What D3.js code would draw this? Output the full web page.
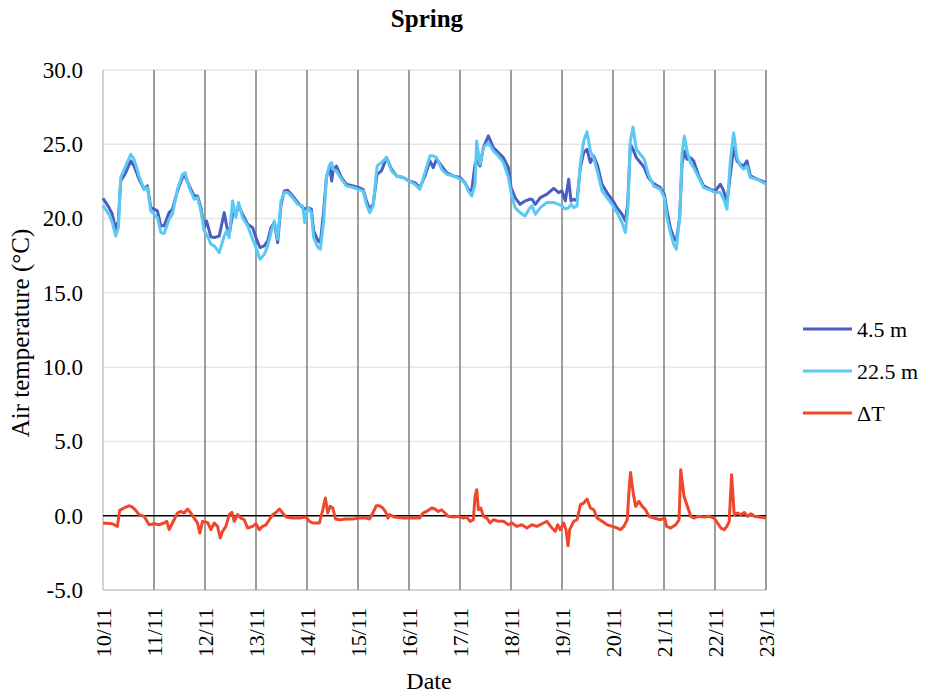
<!DOCTYPE html>
<html>
<head>
<meta charset="utf-8">
<script src="https://d3js.org/d3.v7.min.js"></script>
<style>
  body { margin: 0; background: #fff; }
  text { font-family: "Liberation Serif", "Times New Roman", serif; fill: #000; }
</style>
</head>
<body>
<script>
// dates on x axis (day 0 = 10/11)
var dayLabels = ['10/11','11/11','12/11','13/11','14/11','15/11','16/11','17/11','18/11','19/11','20/11','21/11','22/11','23/11'];
var yTicks = [-5, 0, 5, 10, 15, 20, 25, 30];

// time in days since 10/11 for both temperature series
var tTemp = [0, 0.118, 0.183, 0.249, 0.301, 0.347, 0.445, 0.544, 0.609, 0.707, 0.806, 0.871, 0.936,
  1.002, 1.067, 1.133, 1.198, 1.297, 1.362, 1.46, 1.559, 1.611, 1.69, 1.788, 1.853, 1.919, 1.984,
  2.03, 2.115, 2.181, 2.279, 2.377, 2.423, 2.475, 2.541, 2.606, 2.659, 2.737, 2.836, 2.934, 2.999,
  3.078, 3.163, 3.229, 3.294, 3.36, 3.425, 3.491, 3.556, 3.621, 3.72, 3.818, 3.916, 3.954,
  4.02, 4.085, 4.131, 4.216, 4.262, 4.327, 4.38, 4.445, 4.484, 4.511, 4.576, 4.675, 4.773, 4.904,
  5.002, 5.1, 5.166, 5.231, 5.297, 5.375, 5.46, 5.559, 5.657, 5.755, 5.886, 5.997,
  6.115, 6.214, 6.312, 6.41, 6.475, 6.541, 6.639, 6.737, 6.868, 6.999,
  7.098, 7.163, 7.229, 7.294, 7.327, 7.392, 7.458, 7.556, 7.654, 7.752, 7.851, 7.949,
  8.001, 8.08, 8.178, 8.277, 8.375, 8.412, 8.477, 8.575, 8.706, 8.837, 8.935,
  9.0, 9.065, 9.131, 9.176, 9.229, 9.294, 9.359, 9.425, 9.49, 9.556, 9.621, 9.699, 9.784, 9.882,
  10.0, 10.078, 10.176, 10.242, 10.288, 10.34, 10.392, 10.458, 10.536, 10.614, 10.693, 10.797, 10.928,
  11.007, 11.059, 11.124, 11.19, 11.242, 11.307, 11.353, 11.399, 11.451, 11.516, 11.582, 11.68, 11.778, 11.908,
  12.007, 12.105, 12.17, 12.235, 12.301, 12.366, 12.431, 12.497, 12.562, 12.627, 12.693, 12.824, 13.0];

var temp45 = [21.37, 20.74, 20.29, 19.28, 19.84, 22.53, 23.09, 23.88, 23.54, 22.65, 21.97, 22.2, 20.74,
  20.63, 20.52, 19.51, 19.51, 20.4, 20.63, 21.86, 22.76, 22.87, 22.2, 21.52, 21.52, 20.74, 19.39,
  19.84, 18.77, 18.72, 18.83, 20.4, 19.51, 18.95, 20.29, 20.4, 20.85, 20.29, 19.62, 19.39, 18.72,
  18.05, 18.16, 18.5, 19.39, 19.73, 18.39, 20.96, 21.86, 21.91, 21.52, 21.08, 20.74, 20.63,
  20.74, 20.63, 19.17, 18.5, 18.39, 20.52, 22.76, 23.54, 22.53, 23.21, 23.54, 22.76, 22.31, 22.2,
  22.09, 21.97, 21.19, 20.63, 20.96, 22.98, 23.21, 24.1, 23.32, 22.87, 22.76, 22.53,
  22.42, 22.09, 22.87, 23.88, 23.43, 24.0, 23.54, 23.09, 22.87, 22.76,
  22.42, 21.97, 21.86, 23.65, 23.9, 23.54, 24.78, 25.56, 24.78, 24.44, 24.1, 23.43,
  22.09, 21.41, 20.96, 21.19, 21.3, 21.3, 20.96, 21.41, 21.64, 22.04, 21.75,
  21.86, 21.19, 22.65, 21.19, 21.3, 21.19, 23.43, 24.44, 24.66, 23.77, 24.22, 23.54, 22.31, 21.75,
  21.19, 20.74, 20.29, 19.84, 20.96, 25.0, 24.66, 24.1, 23.77, 23.43, 22.76, 22.35, 22.09,
  21.64, 20.52, 19.39, 18.72, 18.5, 20.07, 23.65, 24.55, 23.99, 24.1, 23.88, 22.87, 22.2, 21.97,
  21.86, 22.31, 21.86, 21.08, 22.98, 24.78, 23.88, 23.65, 23.54, 23.88, 22.87, 22.65, 22.42];

var temp225 = [20.85, 20.29, 19.73, 18.83, 19.39, 22.76, 23.54, 24.33, 23.99, 22.87, 21.97, 22.09, 20.52,
  20.29, 20.07, 19.06, 18.99, 19.96, 20.29, 21.97, 22.98, 23.09, 22.09, 21.3, 21.41, 20.52, 19.17,
  18.95, 18.27, 18.16, 17.71, 18.83, 19.17, 18.72, 21.19, 20.07, 21.08, 20.07, 19.51, 18.61, 18.05,
  17.26, 17.6, 18.16, 19.06, 19.84, 18.61, 21.19, 21.75, 21.75, 21.41, 20.96, 20.85, 19.73,
  20.74, 20.4, 18.72, 18.05, 17.94, 19.84, 22.76, 23.65, 23.77, 23.32, 23.21, 22.65, 22.2, 22.09,
  21.97, 21.86, 20.96, 20.4, 20.85, 23.54, 23.77, 24.1, 23.21, 22.87, 22.76, 22.53,
  22.31, 21.97, 23.09, 24.22, 24.22, 24.1, 23.32, 22.98, 22.87, 22.65,
  22.42, 21.86, 21.52, 22.31, 25.22, 23.65, 24.78, 25.11, 24.55, 24.22, 23.77, 22.76,
  21.75, 20.74, 20.4, 20.18, 20.74, 20.85, 20.29, 20.74, 21.08, 21.08, 20.96,
  20.85, 20.63, 20.74, 20.96, 20.74, 20.85, 23.65, 25.22, 25.85, 24.55, 24.1, 23.09, 21.86, 21.41,
  20.85, 20.4, 19.73, 19.06, 20.52, 25.22, 26.17, 24.66, 24.33, 23.99, 22.98, 22.2, 21.97,
  21.41, 20.07, 19.06, 18.27, 17.94, 20.07, 24.33, 25.56, 24.55, 23.77, 23.43, 22.76, 22.09, 21.91,
  21.75, 21.75, 21.3, 20.63, 23.88, 25.78, 24.1, 23.54, 23.32, 23.54, 22.76, 22.65, 22.31];

// temperature difference, own time base
var tDelta = [0, 0.183, 0.282, 0.327, 0.413, 0.511, 0.576, 0.642, 0.707, 0.806, 0.904,
  1.002, 1.1, 1.198, 1.251, 1.297, 1.362, 1.46, 1.526, 1.591, 1.657, 1.722, 1.788, 1.853, 1.899, 1.952,
  2.05, 2.115, 2.181, 2.246, 2.299, 2.344, 2.41, 2.475, 2.528, 2.574, 2.639, 2.705, 2.77, 2.836, 2.934, 2.999,
  3.065, 3.13, 3.196, 3.261, 3.327, 3.392, 3.458, 3.523, 3.589, 3.72, 3.851, 3.982,
  4.047, 4.113, 4.244, 4.309, 4.361, 4.407, 4.453, 4.506, 4.558, 4.636, 4.767, 4.898,
  5.029, 5.16, 5.226, 5.291, 5.357, 5.422, 5.488, 5.553, 5.586, 5.619, 5.717, 5.881,
  6.012, 6.208, 6.274, 6.344, 6.443, 6.508, 6.574, 6.639, 6.705, 6.77, 6.869, 6.967,
  7.066, 7.131, 7.197, 7.262, 7.295, 7.328, 7.361, 7.407, 7.459, 7.525, 7.59, 7.656, 7.754, 7.852, 7.951,
  8.016, 8.115, 8.213, 8.311, 8.41, 8.508, 8.639, 8.705, 8.803, 8.869, 8.915, 8.967,
  9.033, 9.079, 9.118, 9.151, 9.23, 9.295, 9.361, 9.426, 9.492, 9.557, 9.623, 9.689, 9.787, 9.885, 9.984,
  10.082, 10.148, 10.213, 10.279, 10.311, 10.344, 10.397, 10.443, 10.508, 10.574, 10.639, 10.705, 10.803, 10.934,
  11.013, 11.052, 11.131, 11.23, 11.295, 11.328, 11.393, 11.459, 11.525, 11.59, 11.656, 11.787, 11.885, 11.984,
  12.049, 12.115, 12.18, 12.233, 12.279, 12.325, 12.377, 12.443, 12.508, 12.574, 12.639, 12.705, 12.77, 12.869, 13.0];

var delta = [-0.49, -0.54, -0.72, 0.36, 0.52, 0.67, 0.58, 0.36, 0.07, -0.04, -0.61,
  -0.54, -0.61, -0.49, -0.38, -0.94, -0.49, 0.18, 0.29, 0.18, 0.45, 0.18, -0.16, -0.49, -1.17, -0.38,
  -0.45, -0.94, -0.49, -0.72, -1.5, -1.05, -0.72, 0.07, 0.22, -0.38, 0.07, -0.16, -0.27, -0.83, -0.72, -0.54,
  -0.94, -0.72, -0.61, -0.27, 0.07, 0.22, 0.45, 0.18, -0.09, -0.16, -0.16, -0.09,
  -0.38, -0.49, -0.49, 0.4, 1.19, 0.18, 0.63, 0.52, -0.22, -0.27, -0.22, -0.22,
  -0.16, -0.16, -0.22, 0.18, 0.67, 0.67, 0.52, 0.18, -0.16, 0.07, -0.09, -0.16,
  -0.16, -0.16, 0.18, 0.29, 0.52, 0.45, 0.29, 0.4, 0.18, -0.04, -0.09, -0.04,
  -0.16, -0.09, -0.38, -0.27, 1.3, 1.75, 0.4, 0.52, -0.04, -0.16, -0.49, -0.27, -0.38, -0.38, -0.61,
  -0.49, -0.72, -0.61, -0.83, -0.61, -0.72, -0.49, -0.38, -0.83, -1.05, -0.61, -0.94,
  -0.49, -0.94, -2.02, -0.94, -0.38, -0.27, 0.74, 0.85, 1.12, 0.52, 0.4, -0.16, -0.38, -0.61, -0.72,
  -0.83, -0.94, -0.72, -0.27, 1.52, 2.91, 1.52, 0.63, 0.96, 0.63, 0.4, -0.04, -0.16, -0.27,
  -0.16, -0.72, -0.83, -0.61, -0.27, 3.09, 1.3, 0.63, -0.04, -0.16, -0.04, -0.09, -0.04, -0.16,
  -0.49, -0.83, -0.94, -0.72, -0.38, 2.76, 0.07, 0.18, 0.07, 0.22, -0.04, 0.13, -0.04, -0.09, -0.16];

var seriesNames = ['4.5 m', '22.5 m', '\u0394T'];
var seriesColors = ['#4a5dc4', '#5bc9f1', '#f0462b'];

var width = 927, height = 693;
var margin = {left: 103, right: 161, top: 70, bottom: 103};

var svg = d3.select('body').append('svg')
  .attr('width', width)
  .attr('height', height);

var x = d3.scaleLinear().domain([0, 13]).range([margin.left, width - margin.right]);
var y = d3.scaleLinear().domain([-5, 30]).range([height - margin.bottom, margin.top]);

// horizontal gridlines
svg.append('g')
  .selectAll('line')
  .data(yTicks.filter(d => d !== 0 && d !== -5))
  .enter()
  .append('line')
  .attr('x1', x(0)).attr('x2', x(13))
  .attr('y1', d => y(d)).attr('y2', d => y(d))
  .attr('stroke', '#e6e6e6')
  .attr('stroke-width', 1.5);

// bottom axis line
svg.append('line')
  .attr('x1', x(0)).attr('x2', x(13))
  .attr('y1', y(-5)).attr('y2', y(-5))
  .attr('stroke', '#c4c4c4')
  .attr('stroke-width', 1.5);

// left axis line
svg.append('line')
  .attr('x1', x(0)).attr('x2', x(0))
  .attr('y1', y(30)).attr('y2', y(-5))
  .attr('stroke', '#c4c4c4')
  .attr('stroke-width', 1.5);

// day separators
svg.append('g')
  .selectAll('line')
  .data(d3.range(1, 14))
  .enter()
  .append('line')
  .attr('x1', d => x(d)).attr('x2', d => x(d))
  .attr('y1', y(30)).attr('y2', y(-5))
  .attr('stroke', '#858585')
  .attr('stroke-width', 1.6);

// zero line
svg.append('line')
  .attr('x1', x(0)).attr('x2', x(13))
  .attr('y1', y(0)).attr('y2', y(0))
  .attr('stroke', '#000')
  .attr('stroke-width', 1.6);

// y axis labels
var yAxis = d3.axisLeft(y)
  .tickValues(yTicks)
  .tickFormat(d => d.toFixed(1))
  .tickSize(0)
  .tickPadding(20);

svg.append('g')
  .attr('transform', 'translate(' + x(0) + ',0)')
  .call(yAxis)
  .call(g => g.select('.domain').remove())
  .selectAll('text')
  .style('font-family', '"Liberation Serif", serif')
  .style('font-size', '23px')
  .attr('fill', '#000');

// x axis labels (rotated)
var xAxis = d3.axisBottom(x)
  .tickValues(d3.range(0, 14))
  .tickFormat(d => dayLabels[d])
  .tickSize(0)
  .tickPadding(0);

svg.append('g')
  .attr('transform', 'translate(0,' + y(-5) + ')')
  .call(xAxis)
  .call(g => g.select('.domain').remove())
  .selectAll('text')
  .style('font-family', '"Liberation Serif", serif')
  .style('font-size', '22px')
  .attr('fill', '#000')
  .attr('text-anchor', 'end')
  .attr('dy', '0.35em')
  .attr('x', -18)
  .attr('y', 0)
  .attr('transform', 'rotate(-90)');

// lines
var series = [
  {t: tTemp, v: temp45},
  {t: tTemp, v: temp225},
  {t: tDelta, v: delta}
];

var line = d3.line()
  .x(d => x(d[0]))
  .y(d => y(d[1]));

series.forEach(function(s, i) {
  svg.append('path')
    .datum(s.t.map((t, j) => [t, s.v[j]]))
    .attr('fill', 'none')
    .attr('stroke', seriesColors[i])
    .attr('stroke-width', 3)
    .attr('stroke-linejoin', 'round')
    .attr('d', line);
});

// title
svg.append('text')
  .attr('x', 427)
  .attr('y', 27)
  .attr('text-anchor', 'middle')
  .style('font-size', '25px')
  .style('font-weight', 'bold')
  .text('Spring');

// axis titles
svg.append('text')
  .attr('transform', 'translate(29,' + ((y(30) + y(-5)) / 2 + 3) + ') rotate(-90)')
  .attr('text-anchor', 'middle')
  .style('font-size', '25px')
  .text('Air temperature (\u00B0C)');

svg.append('text')
  .attr('x', 429)
  .attr('y', 689)
  .attr('text-anchor', 'middle')
  .style('font-size', '24px')
  .text('Date');

// legend
var legend = svg.append('g').attr('transform', 'translate(803,329)');
var items = legend.selectAll('g')
  .data(seriesNames)
  .enter()
  .append('g')
  .attr('transform', (d, i) => 'translate(0,' + i * 42 + ')');

items.append('line')
  .attr('x1', 0).attr('x2', 49)
  .attr('y1', 0).attr('y2', 0)
  .attr('stroke', (d, i) => seriesColors[i])
  .attr('stroke-width', 3);

items.append('text')
  .attr('x', 54)
  .attr('y', 0)
  .attr('dy', '0.35em')
  .style('font-size', '22px')
  .text(d => d);
</script>
</body>
</html>
